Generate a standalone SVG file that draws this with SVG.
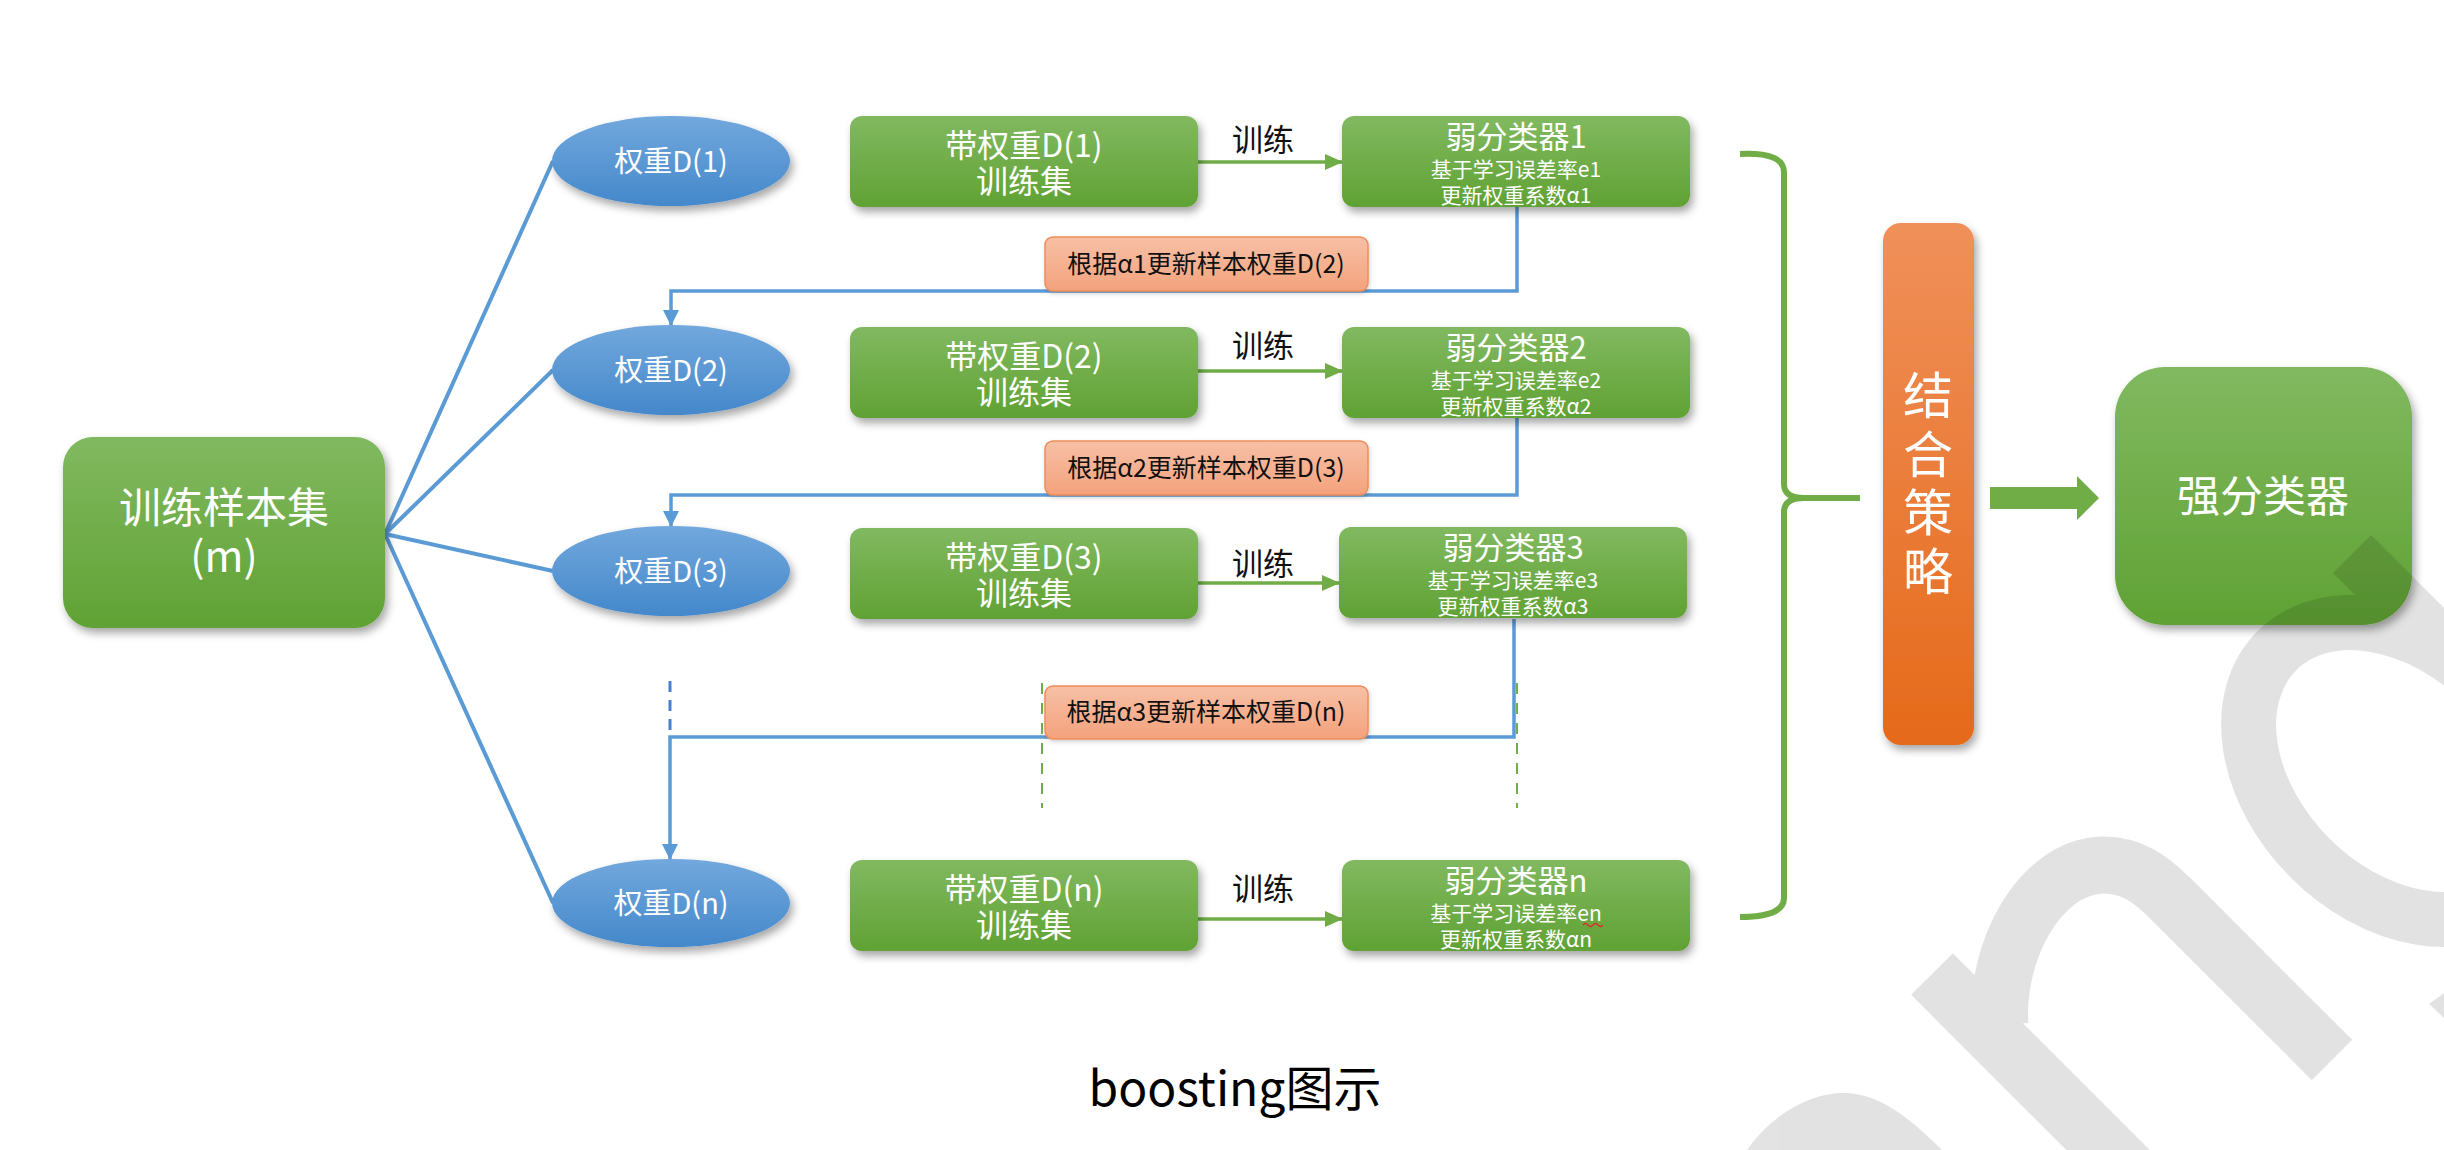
<svg xmlns="http://www.w3.org/2000/svg" width="2444" height="1150" viewBox="0 0 2444 1150">
  <defs>
    <linearGradient id="gGreen" x1="0" y1="0" x2="0" y2="1">
      <stop offset="0" stop-color="#81b960"/>
      <stop offset="1" stop-color="#60a234"/>
    </linearGradient>
    <linearGradient id="gBlue" x1="0" y1="0" x2="0" y2="1">
      <stop offset="0" stop-color="#72a8dd"/>
      <stop offset="1" stop-color="#4488cb"/>
    </linearGradient>
    <linearGradient id="gSalmon" x1="0" y1="0" x2="0" y2="1">
      <stop offset="0" stop-color="#f7c0a6"/>
      <stop offset="1" stop-color="#f4a27c"/>
    </linearGradient>
    <linearGradient id="gOrange" x1="0" y1="0" x2="0" y2="1">
      <stop offset="0" stop-color="#f0905a"/>
      <stop offset="1" stop-color="#e56a1a"/>
    </linearGradient>
    <filter id="shadow" x="-20%" y="-20%" width="140%" height="150%">
      <feDropShadow dx="3" dy="5" stdDeviation="4" flood-color="#000" flood-opacity="0.35"/>
    </filter>
    <filter id="shadowSoft" x="-10%" y="-20%" width="120%" height="150%">
      <feDropShadow dx="1" dy="2" stdDeviation="2" flood-color="#000" flood-opacity="0.18"/>
    </filter>
    <marker id="arrowBlue" markerUnits="userSpaceOnUse" markerWidth="16" markerHeight="16" viewBox="0 0 16 16" refX="15" refY="8" orient="auto">
      <path d="M0,0 L16,8 L0,16 Z" fill="#5b9bd5"/>
    </marker>
    <marker id="arrowGreen" markerUnits="userSpaceOnUse" markerWidth="18" markerHeight="16" viewBox="0 0 18 16" refX="17" refY="8" orient="auto">
      <path d="M0,0 L18,8 L0,16 Z" fill="#70ad47"/>
    </marker>
    <style>
      text { font-family: "Noto Sans CJK SC", "Noto Sans", "Liberation Sans", sans-serif; text-anchor: middle; }
      .w { fill: #ffffff; }
      .k { fill: #111111; }
      .box { fill: url(#gGreen); filter: url(#shadow); }
      .ell { fill: url(#gBlue); filter: url(#shadow); }
      .lbl { fill: url(#gSalmon); stroke: #ee8d58; stroke-width: 1.5; filter: url(#shadowSoft); }
      .fan { stroke: #5b9bd5; stroke-width: 4; fill: none; }
      .fb { stroke: #5b9bd5; stroke-width: 3.5; fill: none; }
      .train { stroke: #70ad47; stroke-width: 3.5; fill: none; }
      .gdash { stroke: #70ad47; stroke-width: 2; stroke-dasharray: 11 9; fill: none; }
      .t32 { font-size: 32px; }
      .t31 { font-size: 31px; }
      .t29 { font-size: 29px; }
      .t21 { font-size: 21px; }
      .t25 { font-size: 25px; }
    </style>
  </defs>

  <rect width="2444" height="1150" fill="#ffffff"/>

  <!-- connectors -->
  <g id="connectors">
    <!-- fan-out from the training set -->
    <line class="fan" x1="385" y1="534" x2="553" y2="161"/>
    <line class="fan" x1="385" y1="534" x2="553" y2="370"/>
    <line class="fan" x1="385" y1="534" x2="553" y2="571"/>
    <line class="fan" x1="385" y1="534" x2="553" y2="903"/>

    <!-- weight update feedback loops -->
    <path class="fb" d="M1517,207 V291 H671 V325" marker-end="url(#arrowBlue)"/>
    <path class="fb" d="M1517,418 V495 H671 V526" marker-end="url(#arrowBlue)"/>
    <path class="fb" d="M1514,619 V737 H670 V859" marker-end="url(#arrowBlue)"/>
    <line x1="670" y1="681" x2="670" y2="733" stroke="#4a7fcb" stroke-width="3" stroke-dasharray="11 8"/>

    <!-- elided rounds -->
    <line class="gdash" x1="1042" y1="683" x2="1042" y2="808"/>
    <line class="gdash" x1="1517" y1="683" x2="1517" y2="808"/>

    <!-- train arrows -->
    <line class="train" x1="1198" y1="162" x2="1342" y2="162" marker-end="url(#arrowGreen)"/>
    <line class="train" x1="1198" y1="371" x2="1342" y2="371" marker-end="url(#arrowGreen)"/>
    <line class="train" x1="1198" y1="583" x2="1339" y2="583" marker-end="url(#arrowGreen)"/>
    <line class="train" x1="1198" y1="919" x2="1342" y2="919" marker-end="url(#arrowGreen)"/>
    <text class="k t31" x="1263" y="151">训练</text>
    <text class="k t31" x="1263" y="357">训练</text>
    <text class="k t31" x="1263" y="575">训练</text>
    <text class="k t31" x="1263" y="900">训练</text>

    <!-- brace gathering the weak classifiers -->
    <path d="M1740,154 Q1784,152 1784,172 L1784,484 Q1784,498 1804,498 L1860,498 M1804,498 Q1784,498 1784,512 L1784,898 Q1784,917 1740,917" fill="none" stroke="#70ad47" stroke-width="6"/>

    <!-- block arrow to the strong classifier -->
    <polygon points="1990,487 2077,487 2077,476 2099,498 2077,520 2077,509 1990,509" fill="#70ad47"/>
  </g>

  <!-- training set -->
  <g id="node-train-set">
    <rect class="box" x="63" y="437" width="322" height="191" rx="30"/>
    <text class="w" font-size="42"><tspan x="224" y="523">训练样本集</tspan><tspan x="224" y="572">(m)</tspan></text>
  </g>

  <!-- sample weights -->
  <g id="node-w1"><ellipse class="ell" cx="671" cy="161" rx="119" ry="45"/><text class="w t29" x="671" y="172">权重D(1)</text></g>
  <g id="node-w2"><ellipse class="ell" cx="671" cy="370" rx="119" ry="45"/><text class="w t29" x="671" y="381">权重D(2)</text></g>
  <g id="node-w3"><ellipse class="ell" cx="671" cy="571" rx="119" ry="45"/><text class="w t29" x="671" y="582">权重D(3)</text></g>
  <g id="node-wn"><ellipse class="ell" cx="671" cy="903" rx="119" ry="44"/><text class="w t29" x="671" y="914">权重D(n)</text></g>

  <!-- weighted training sets -->
  <g id="node-set1"><rect class="box" x="850" y="116" width="348" height="91" rx="12"/>
    <text class="w t32"><tspan x="1024" y="157">带权重D(1)</tspan><tspan x="1024" y="193">训练集</tspan></text></g>
  <g id="node-set2"><rect class="box" x="850" y="327" width="348" height="91" rx="12"/>
    <text class="w t32"><tspan x="1024" y="368">带权重D(2)</tspan><tspan x="1024" y="404">训练集</tspan></text></g>
  <g id="node-set3"><rect class="box" x="850" y="528" width="348" height="91" rx="12"/>
    <text class="w t32"><tspan x="1024" y="569">带权重D(3)</tspan><tspan x="1024" y="605">训练集</tspan></text></g>
  <g id="node-setn"><rect class="box" x="850" y="860" width="348" height="91" rx="12"/>
    <text class="w t32"><tspan x="1024" y="901">带权重D(n)</tspan><tspan x="1024" y="937">训练集</tspan></text></g>

  <!-- weak classifiers -->
  <g id="node-clf1"><rect class="box" x="1342" y="116" width="348" height="91" rx="12"/>
    <text class="w t21"><tspan class="t31" x="1516" y="148">弱分类器1</tspan><tspan x="1516" y="177">基于学习误差率e1</tspan><tspan x="1516" y="203">更新权重系数α1</tspan></text></g>
  <g id="node-clf2"><rect class="box" x="1342" y="327" width="348" height="91" rx="12"/>
    <text class="w t21"><tspan class="t31" x="1516" y="359">弱分类器2</tspan><tspan x="1516" y="388">基于学习误差率e2</tspan><tspan x="1516" y="414">更新权重系数α2</tspan></text></g>
  <g id="node-clf3"><rect class="box" x="1339" y="527" width="348" height="91" rx="12"/>
    <text class="w t21"><tspan class="t31" x="1513" y="559">弱分类器3</tspan><tspan x="1513" y="588">基于学习误差率e3</tspan><tspan x="1513" y="614">更新权重系数α3</tspan></text></g>
  <g id="node-clfn"><rect class="box" x="1342" y="860" width="348" height="91" rx="12"/>
    <text class="w t21"><tspan class="t31" x="1516" y="892">弱分类器n</tspan><tspan x="1516" y="921">基于学习误差率en</tspan><tspan x="1516" y="947">更新权重系数αn</tspan></text>
    <path d="M1583,925 q2.5,-3 5,0 t5,0 t5,0 t5,0" fill="none" stroke="#e02b2b" stroke-width="1.3"/></g>

  <!-- weight update labels -->
  <g id="node-upd1"><rect class="lbl" x="1045" y="237" width="323" height="54" rx="8"/>
    <text class="k t25" x="1206" y="273">根据α1更新样本权重D(2)</text></g>
  <g id="node-upd2"><rect class="lbl" x="1045" y="441" width="323" height="54" rx="8"/>
    <text class="k t25" x="1206" y="477">根据α2更新样本权重D(3)</text></g>
  <g id="node-upd3"><rect class="lbl" x="1045" y="686" width="323" height="53" rx="8"/>
    <text class="k t25" x="1206" y="721">根据α3更新样本权重D(n)</text></g>

  <!-- combination strategy -->
  <g id="node-combine">
    <rect x="1883" y="223" width="91" height="522" rx="18" fill="url(#gOrange)" filter="url(#shadow)"/>
    <text class="w" font-size="50"><tspan x="1928" y="414">结</tspan><tspan x="1928" y="473">合</tspan><tspan x="1928" y="531">策</tspan><tspan x="1928" y="590">略</tspan></text>
  </g>

  <!-- strong classifier -->
  <g id="node-strong">
    <rect class="box" x="2115" y="367" width="297" height="258" rx="50"/>
    <text class="w" x="2263" y="512" font-size="43">强分类器</text>
  </g>

  <!-- caption -->
  <text x="1235" y="1106" font-size="48" fill="#000">boosting图示</text>

  <!-- faint corner watermark -->
  <g id="watermark" opacity="0.11" fill="none" stroke="#000">
    <line x1="1932" y1="974" x2="2130" y2="1172" stroke-width="59"/>
    <path d="M2000,1025 C1995,950 2040,868 2101,865 C2132,864 2152,880 2172,900 L2332,1060" stroke-width="57"/>
    <ellipse cx="2397" cy="771" rx="170" ry="123" transform="rotate(45 2397 771)" stroke-width="55"/>
    <line x1="2352" y1="554" x2="2520" y2="722" stroke-width="54"/>
    <path d="M1747,1150 C1775,1110 1815,1092 1846,1093 C1880,1094 1910,1118 1942,1150 Z" fill="#000" stroke="none"/>
    <path d="M2429,1004 L2444,993 L2444,1018 Z" fill="#000" stroke="none"/>
  </g>
</svg>
